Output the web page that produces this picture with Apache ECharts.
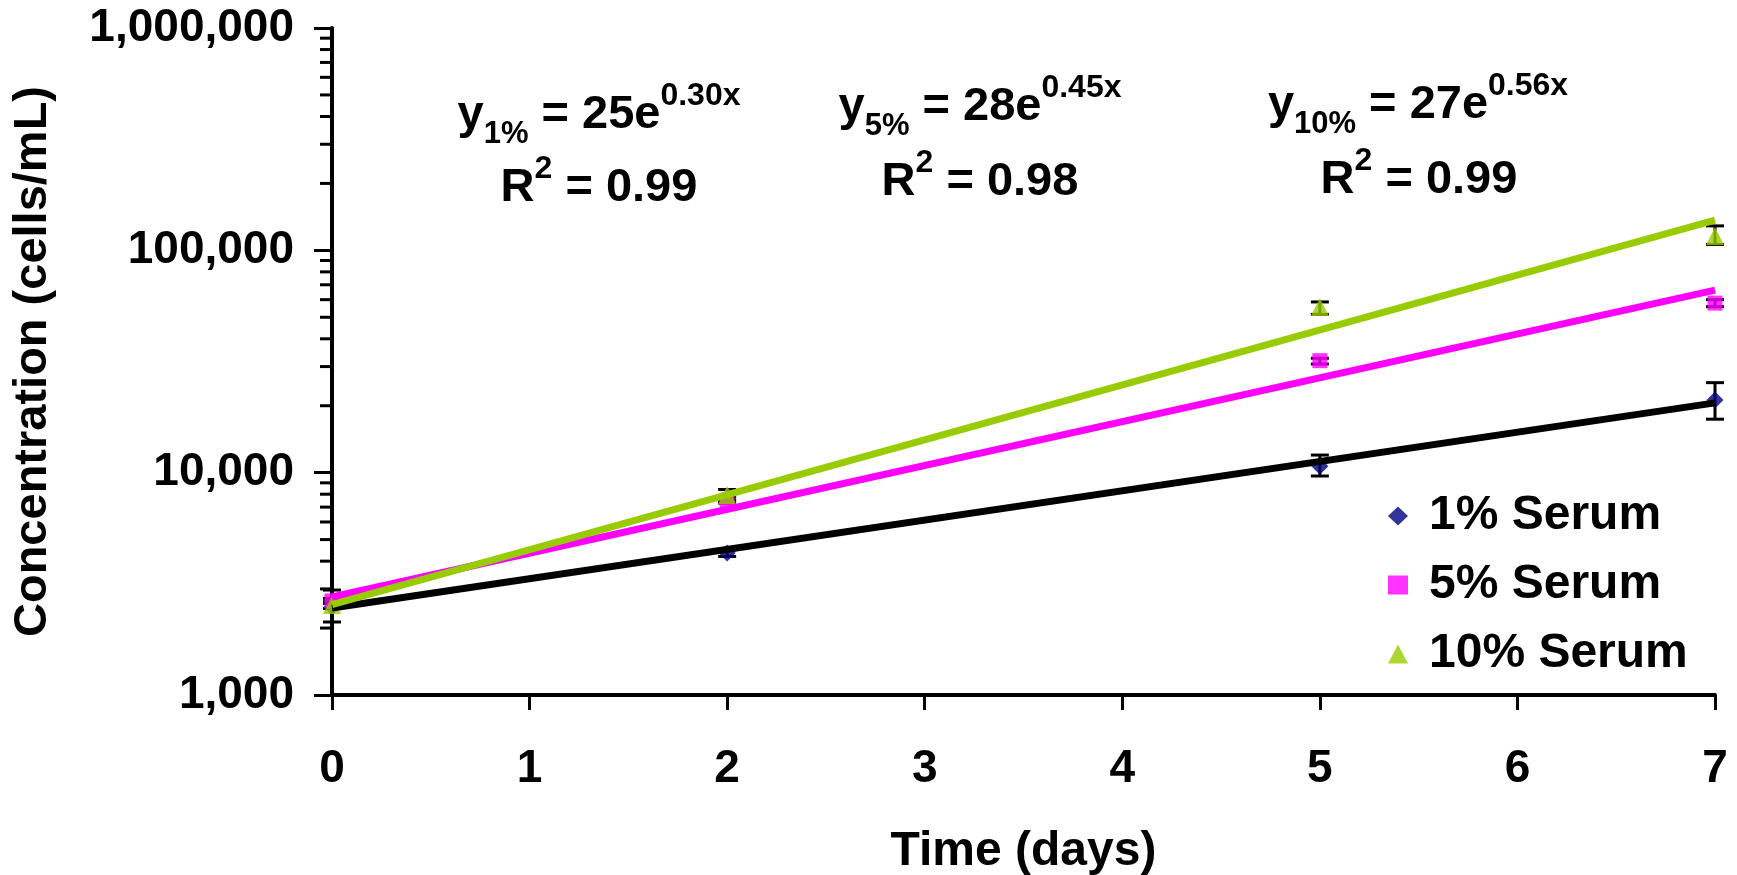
<!DOCTYPE html>
<html>
<head>
<meta charset="utf-8">
<script src="https://cdn.jsdelivr.net/npm/echarts@6/dist/echarts.min.js"></script>
<style>
  html, body { margin: 0; padding: 0; background: #fff; }
  #main { width: 1737px; height: 875px; }
</style>
</head>
<body>
<div id="main"></div>
<script>
// measured data (cells/mL)
var days = [0, 2, 5, 7];
var serum1 = [2480, 4350, 10700, 21200];
var serum5 = [2650, 7520, 31900, 57900];
var serum10 = [2540, 7930, 55600, 116000];

// error bar ends
var err1Low = [2130, 4200, 9660, 17400];
var err1High = [2965, 4500, 12000, 25400];
var err5Low = [2580, 7300, 30800, 55800];
var err5High = [2720, 7750, 32700, 60000];
var err10Low = [2450, 7500, 51500, 106300];
var err10High = [2630, 8400, 58600, 128800];

// exponential trendlines, start / end values (straight on log axis)
var trendDays = [0, 7];
var trend1 = [2460, 20600];
var trend5 = [2760, 66200];
var trend10 = [2550, 136800];

var xTicks = [0, 1, 2, 3, 4, 5, 6, 7];
var decades = [1000, 10000, 100000];
var minorMult = [2, 3, 4, 5, 6, 7, 8, 9];

var FONT = '"Liberation Sans", Arial, sans-serif';

function pairs(xs, ys) {
    return xs.map(function (x, i) { return [x, ys[i]]; });
}
function errRows(lo, hi) {
    return days.map(function (d, i) { return [d, lo[i], hi[i]]; });
}

var minorTicks = [];
decades.forEach(function (d) {
    minorMult.forEach(function (m) { minorTicks.push([0, d * m]); });
});

function renderErr(params, api) {
    var lo = api.coord([api.value(0), api.value(1)]);
    var hi = api.coord([api.value(0), api.value(2)]);
    var w = 9;
    var st = { stroke: '#000', lineWidth: 3 };
    return {
        type: 'group',
        children: [
            { type: 'line', shape: { x1: lo[0], y1: lo[1], x2: hi[0], y2: hi[1] }, style: st },
            { type: 'line', shape: { x1: lo[0] - w, y1: lo[1], x2: lo[0] + w, y2: lo[1] }, style: st },
            { type: 'line', shape: { x1: hi[0] - w, y1: hi[1], x2: hi[0] + w, y2: hi[1] }, style: st }
        ]
    };
}

function errSeries(lo, hi) {
    return {
        type: 'custom', renderItem: renderErr, data: errRows(lo, hi),
        encode: { x: 0, y: [1, 2] }, z: 1, clip: false, silent: true
    };
}

function trendSeries(vals, color) {
    return {
        type: 'line', data: pairs(trendDays, vals), showSymbol: false, z: 4,
        lineStyle: { color: color, width: 7 }, silent: true
    };
}

var richEq = {
    m: { fontSize: 47, fontWeight: 'bold', fontFamily: FONT, lineHeight: 70, fill: '#000' },
    sup: { fontSize: 32, fontWeight: 'bold', fontFamily: FONT, lineHeight: 22, verticalAlign: 'top', fill: '#000' },
    sub: { fontSize: 31, fontWeight: 'bold', fontFamily: FONT, lineHeight: 45, verticalAlign: 'bottom', fill: '#000' }
};

function eqText(x, y, txt) {
    return {
        type: 'text', x: x, y: y, z: 10,
        style: { text: txt, rich: richEq, align: 'center', verticalAlign: 'middle', fill: '#000' }
    };
}

var chart = echarts.init(document.getElementById('main'));
chart.setOption({
    animation: false,
    backgroundColor: '#fff',
    grid: { left: 332, right: 22, top: 28, bottom: 180, containLabel: false, outerBoundsMode: 'none' },
    xAxis: {
        type: 'value', min: 0, max: 7, interval: 1,
        name: 'Time (days)', nameLocation: 'middle', nameGap: 133,
        nameTextStyle: { fontSize: 48, fontWeight: 'bold', fontFamily: FONT, color: '#000' },
        axisLine: { show: true, onZero: false, lineStyle: { color: '#000', width: 4 } },
        axisTick: { show: true, length: 15, lineStyle: { color: '#000', width: 3 } },
        axisLabel: {
            fontSize: 46, fontWeight: 'bold', fontFamily: FONT, color: '#000', margin: 51,
            formatter: function (v) { return xTicks.indexOf(v) >= 0 ? String(v) : ''; }
        },
        splitLine: { show: false }
    },
    yAxis: {
        type: 'log', logBase: 10, min: 1000, max: 1000000,
        name: 'Concentration (cells/mL)', nameLocation: 'middle', nameGap: 275,
        nameTextStyle: { fontSize: 47, fontWeight: 'bold', fontFamily: FONT, color: '#000' },
        axisLine: { show: true, lineStyle: { color: '#000', width: 4 } },
        axisTick: { show: true, length: 18, lineStyle: { color: '#000', width: 3 } },
        axisLabel: {
            fontSize: 46, fontWeight: 'bold', fontFamily: FONT, color: '#000', margin: 38,
            formatter: function (v) { return Math.round(v).toLocaleString('en-US'); }
        },
        splitLine: { show: false }
    },
    legend: {
        orient: 'vertical', left: 1388, top: 491, padding: 0, itemGap: 19,
        itemWidth: 20, itemHeight: 19,
        data: ['1% Serum', '5% Serum', '10% Serum'],
        textStyle: { fontSize: 48, fontWeight: 'bold', fontFamily: FONT, color: '#000', lineHeight: 50, padding: [0, 0, 0, 16] }
    },
    graphic: [
        eqText(599, 115, '{m|y}{sub|1%}{m| = 25e}{sup|0.30x}'),
        eqText(599, 188, '{m|R}{sup|2}{m| = 0.99}'),
        eqText(980, 107, '{m|y}{sub|5%}{m| = 28e}{sup|0.45x}'),
        eqText(980, 182, '{m|R}{sup|2}{m| = 0.98}'),
        eqText(1418, 105, '{m|y}{sub|10%}{m| = 27e}{sup|0.56x}'),
        eqText(1419, 180, '{m|R}{sup|2}{m| = 0.99}')
    ],
    series: [
        errSeries(err1Low, err1High),
        errSeries(err5Low, err5High),
        errSeries(err10Low, err10High),
        {
            name: '1% Serum', type: 'scatter', data: pairs(days, serum1), z: 2,
            symbol: 'diamond', symbolSize: 17, itemStyle: { color: '#000080' }
        },
        {
            name: '5% Serum', type: 'scatter', data: pairs(days, serum5), z: 2,
            symbol: 'rect', symbolSize: 15, itemStyle: { color: '#FF00FF' }
        },
        {
            name: '10% Serum', type: 'scatter', data: pairs(days, serum10), z: 2,
            symbol: 'triangle', symbolSize: 18, itemStyle: { color: '#99CC00' }
        },
        trendSeries(trend1, '#000000'),
        trendSeries(trend5, '#FF00FF'),
        trendSeries(trend10, '#99CC00'),
        {
            type: 'custom', data: minorTicks, encode: { x: 0, y: 1 }, z: 5, clip: false, silent: true,
            renderItem: function (params, api) {
                var p = api.coord([api.value(0), api.value(1)]);
                return {
                    type: 'line', shape: { x1: p[0] - 12, y1: p[1], x2: p[0], y2: p[1] },
                    style: { stroke: '#000', lineWidth: 3 }
                };
            }
        }
    ]
});
</script>
</body>
</html>
